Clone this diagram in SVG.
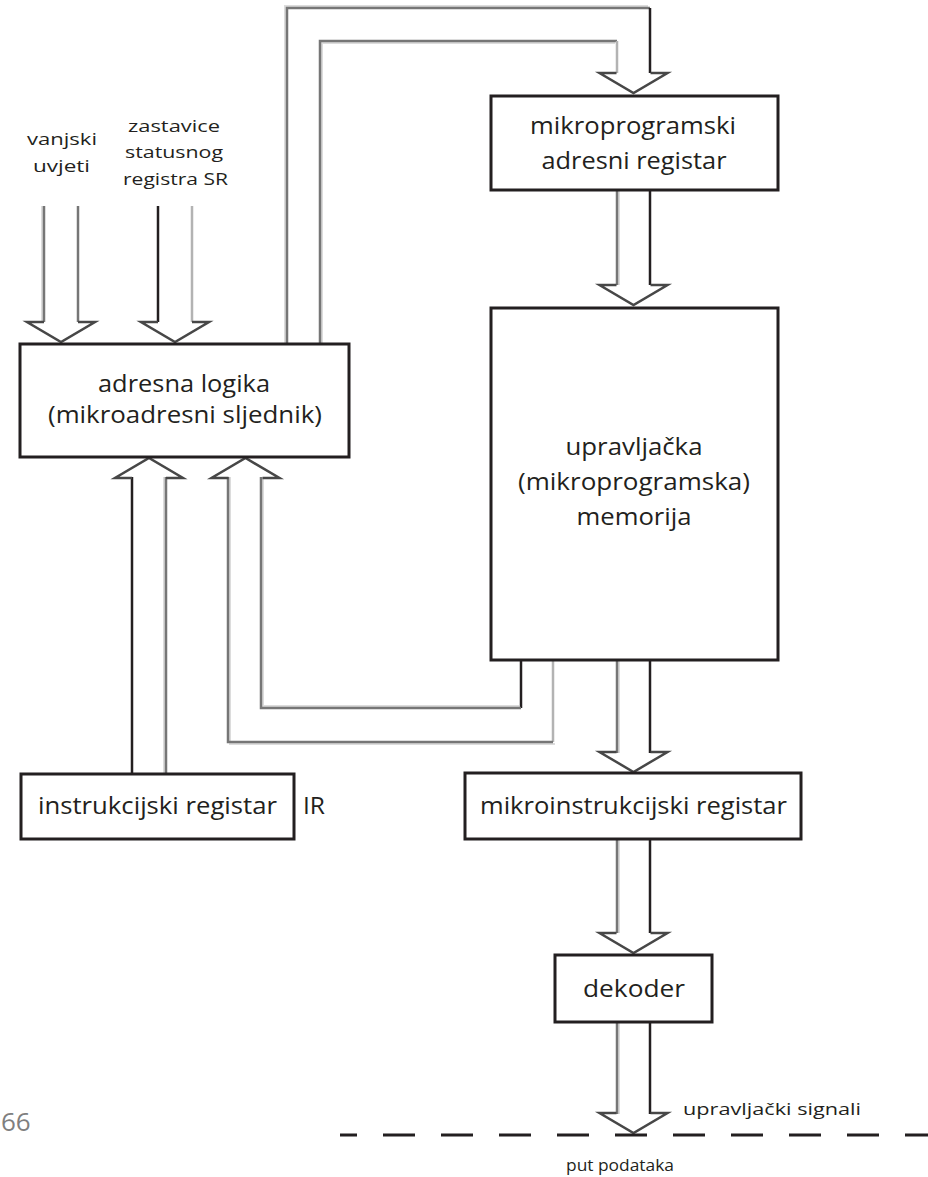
<svg xmlns="http://www.w3.org/2000/svg" width="928" height="1177" viewBox="0 0 928 1177">
  <style>
    .box { fill: #ffffff; stroke: #231f20; stroke-width: 3; }
    .lbl { font-family: "Open Sans", "Liberation Sans", sans-serif; font-size: 24px; fill: #231f20; text-anchor: middle; }
    .sm { font-family: "Open Sans", "Liberation Sans", sans-serif; font-size: 17px; fill: #231f20; }
    .dk { stroke: #231f20; stroke-width: 2.5; fill: none; }
    .md { stroke: #767676; stroke-width: 2.5; fill: none; }
    .lt { stroke: #b3b3b3; stroke-width: 2.5; fill: none; }
    .halo { stroke: #dcdcdc; stroke-width: 2; fill: none; }
    .head { stroke: #474747; stroke-width: 2.5; fill: none; stroke-linejoin: miter; }
  </style>
  <defs>
    <!-- hollow arrowhead, tip at the origin, pointing down -->
    <path id="headDown" class="head" d="M -17 -20 H -34 L 0 0 L 34 -20 H 17"/>
  </defs>
  <rect width="928" height="1177" fill="#ffffff"/>

  <g id="connectors">
    <!-- vanjski uvjeti -->
    <path class="halo" d="M 42 206 V 322"/>
    <path class="md" d="M 44 206 V 322"/>
    <path class="md" d="M 78 206 V 322"/>
    <use href="#headDown" x="61" y="342"/>

    <!-- zastavice statusnog registra -->
    <path class="dk" d="M 158 206 V 322"/>
    <path class="lt" d="M 192 206 V 322"/>
    <use href="#headDown" x="175" y="342"/>

    <!-- adresna logika to mikroprogramski adresni registar -->
    <path class="halo" d="M 285 344 V 6 H 648"/>
    <path class="md" d="M 287 344 V 8 H 650"/>
    <path class="dk" d="M 650 8 V 73"/>
    <path class="halo" d="M 322 344 V 43 H 615"/>
    <path class="md" d="M 320 344 V 41 H 617"/>
    <path class="lt" d="M 617 41 V 73"/>
    <use href="#headDown" x="633.5" y="93"/>

    <!-- adresni registar to memorija -->
    <path class="halo" d="M 619 190 V 285"/>
    <path class="md" d="M 617 190 V 285"/>
    <path class="dk" d="M 650 190 V 285"/>
    <use href="#headDown" x="633.5" y="305"/>

    <!-- memorija back to adresna logika -->
    <path class="dk" d="M 521 660 V 708"/>
    <path class="halo" d="M 519 706 H 263 V 477"/>
    <path class="md" d="M 521 708 H 261 V 477"/>
    <path class="lt" d="M 553 660 V 742"/>
    <path class="halo" d="M 555 744 H 230 V 477"/>
    <path class="md" d="M 553 742 H 228 V 477"/>
    <use href="#headDown" transform="translate(245.5 458) scale(1 -1)"/>

    <!-- instrukcijski registar to adresna logika -->
    <path class="dk" d="M 132 774 V 477"/>
    <path class="halo" d="M 164 774 V 477"/>
    <path class="md" d="M 166 774 V 477"/>
    <use href="#headDown" transform="translate(149 458) scale(1 -1)"/>

    <!-- memorija to mikroinstrukcijski registar -->
    <path class="halo" d="M 619 660 V 753"/>
    <path class="md" d="M 617 660 V 753"/>
    <path class="dk" d="M 650 660 V 753"/>
    <use href="#headDown" x="633.5" y="772"/>

    <!-- mikroinstrukcijski registar to dekoder -->
    <path class="halo" d="M 619 839 V 933"/>
    <path class="md" d="M 617 839 V 933"/>
    <path class="dk" d="M 650 839 V 933"/>
    <use href="#headDown" x="633.5" y="953"/>

    <!-- dekoder to put podataka -->
    <path class="halo" d="M 619 1022 V 1114"/>
    <path class="md" d="M 617 1022 V 1114"/>
    <path class="dk" d="M 650 1022 V 1114"/>
    <use href="#headDown" x="633.5" y="1133"/>

    <!-- boundary of the data path -->
    <line x1="340" y1="1135" x2="928" y2="1135" stroke="#231f20" stroke-width="3" stroke-dasharray="32 26" stroke-dashoffset="15"/>
  </g>

  <g id="adresni-registar">
    <rect class="box" x="491" y="96" width="287" height="94"/>
    <text class="lbl" x="633" y="134" textLength="206" lengthAdjust="spacingAndGlyphs">mikroprogramski</text>
    <text class="lbl" x="634" y="169" textLength="185" lengthAdjust="spacingAndGlyphs">adresni registar</text>
  </g>

  <g id="memorija">
    <rect class="box" x="491" y="308" width="287" height="352"/>
    <text class="lbl" x="634" y="455" textLength="137" lengthAdjust="spacingAndGlyphs">upravljačka</text>
    <text class="lbl" x="634" y="490" textLength="232" lengthAdjust="spacingAndGlyphs">(mikroprogramska)</text>
    <text class="lbl" x="634" y="525" textLength="115" lengthAdjust="spacingAndGlyphs">memorija</text>
  </g>

  <g id="adresna-logika">
    <rect class="box" x="20" y="344" width="329" height="113"/>
    <text class="lbl" x="184" y="392" textLength="172" lengthAdjust="spacingAndGlyphs">adresna logika</text>
    <text class="lbl" x="185" y="423" textLength="274" lengthAdjust="spacingAndGlyphs">(mikroadresni sljednik)</text>
  </g>

  <g id="instrukcijski-registar">
    <rect class="box" x="21" y="774" width="273" height="65"/>
    <text class="lbl" x="157.5" y="814" textLength="239" lengthAdjust="spacingAndGlyphs">instrukcijski registar</text>
  </g>

  <g id="ir-label">
    <text class="lbl" x="314" y="814" textLength="22" lengthAdjust="spacingAndGlyphs">IR</text>
  </g>

  <g id="mikroinstrukcijski-registar">
    <rect class="box" x="465" y="773" width="336" height="66"/>
    <text class="lbl" x="633.5" y="814" textLength="307" lengthAdjust="spacingAndGlyphs">mikroinstrukcijski registar</text>
  </g>

  <g id="dekoder">
    <rect class="box" x="555" y="955" width="157" height="67"/>
    <text class="lbl" x="634" y="997" textLength="102" lengthAdjust="spacingAndGlyphs">dekoder</text>
  </g>

  <g id="vanjski-uvjeti">
    <text class="sm" x="27" y="145" textLength="70" lengthAdjust="spacingAndGlyphs">vanjski</text>
    <text class="sm" x="33" y="172" textLength="57" lengthAdjust="spacingAndGlyphs">uvjeti</text>
  </g>

  <g id="zastavice">
    <text class="sm" x="128" y="132" textLength="92" lengthAdjust="spacingAndGlyphs">zastavice</text>
    <text class="sm" x="125" y="158" textLength="98" lengthAdjust="spacingAndGlyphs">statusnog</text>
    <text class="sm" x="123" y="185" textLength="105" lengthAdjust="spacingAndGlyphs">registra SR</text>
  </g>

  <g id="upravljacki-signali">
    <text class="sm" x="683" y="1115" textLength="178" lengthAdjust="spacingAndGlyphs">upravljački signali</text>
  </g>

  <g id="put-podataka">
    <text class="sm" x="566" y="1171" textLength="108" lengthAdjust="spacingAndGlyphs">put podataka</text>
  </g>

  <g id="page-number">
    <text x="1" y="1131" font-family="Open Sans, Liberation Sans, sans-serif" font-size="26" fill="#7f7f7f">66</text>
  </g>
</svg>
